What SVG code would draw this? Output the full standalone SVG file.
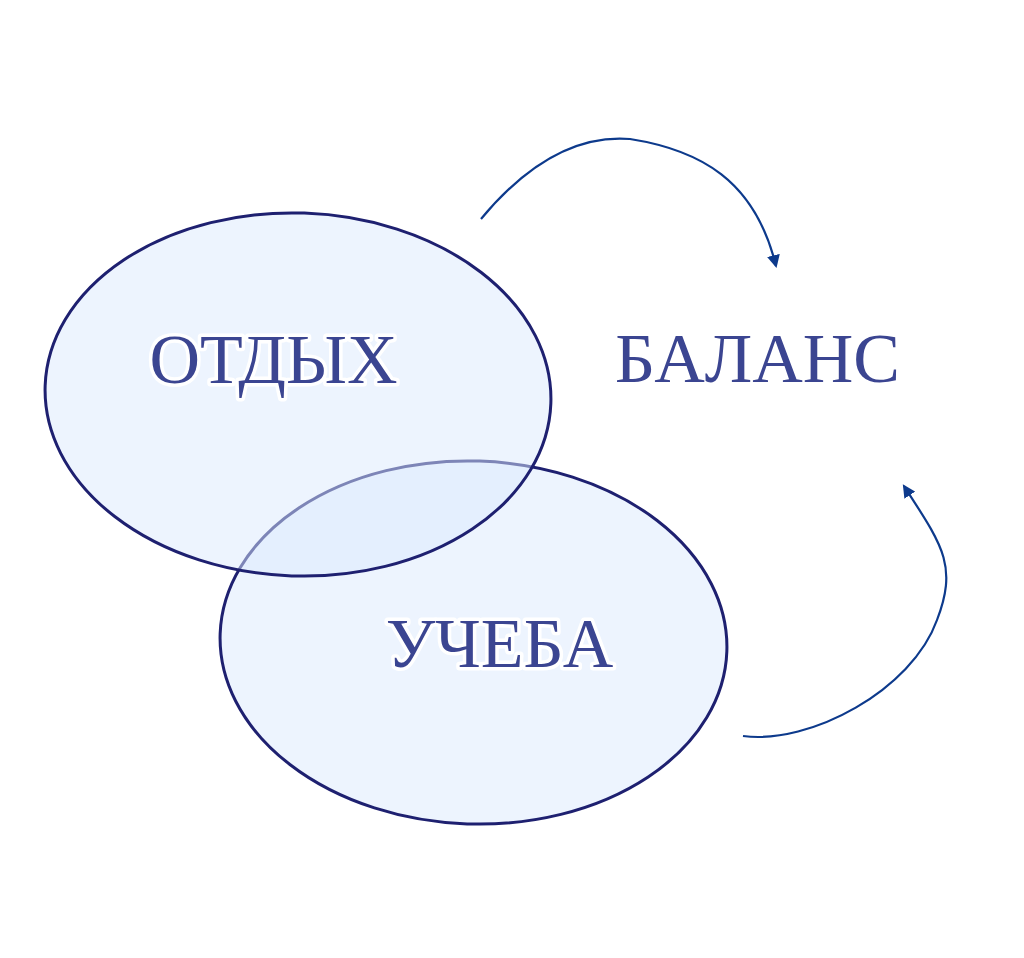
<svg xmlns="http://www.w3.org/2000/svg" width="1024" height="958" viewBox="0 0 1024 958">
<style>
.ell{fill:#dbe9fd;fill-opacity:0.5;stroke:#1e2070;stroke-width:3}
.lbl{font-family:"Liberation Serif","DejaVu Serif",serif;font-size:70px;fill:#3b4591;stroke:#ffffff;stroke-width:7;stroke-linejoin:round;paint-order:stroke;text-anchor:middle}
.conn{fill:none;stroke:#0d3a8c;stroke-width:2.2}
</style>
<defs>
<marker id="ah" viewBox="0 0 12 12" refX="10" refY="6" markerWidth="13" markerHeight="13" markerUnits="userSpaceOnUse" orient="auto">
<path d="M0,0 L12,6 L0,12 Z" fill="#0d3a8c"/>
</marker>
</defs>
<rect width="1024" height="958" fill="#ffffff"/>
<g id="node-ucheba">
<ellipse class="ell" cx="473.5" cy="642.5" rx="253.5" ry="181.5" transform="rotate(2 473.5 642.5)"/>
</g>
<g id="node-otdyh">
<ellipse class="ell" cx="298" cy="394.5" rx="253" ry="181.5" transform="rotate(2 298 394.5)"/>
</g>
<g id="label-otdyh"><text class="lbl" x="273.5" y="383">ОТДЫХ</text></g>
<g id="label-ucheba"><text class="lbl" x="499.5" y="667">УЧЕБА</text></g>
<g id="node-balans"><text class="lbl" x="757.5" y="382">БАЛАНС</text></g>
<g id="connectors">
<path class="conn" marker-end="url(#ah)" d="M481,219 C530,160 580,135 630,139 C700,150 755,180 776,266"/>
<path class="conn" marker-end="url(#ah)" d="M743,736 C810,745 912,690 937,620 C958,565 942,545 904,486"/>
</g>
</svg>
